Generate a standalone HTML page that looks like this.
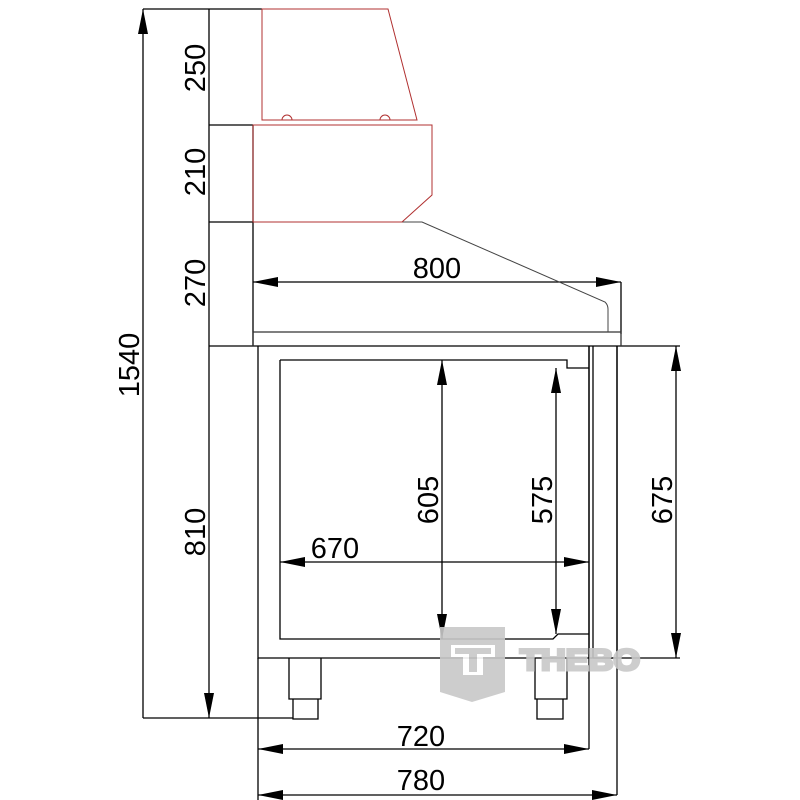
<!DOCTYPE html>
<html><head><style>html,body{margin:0;padding:0;background:#fff}svg{display:block}</style></head><body>
<svg width="800" height="800" viewBox="0 0 800 800" xmlns="http://www.w3.org/2000/svg">
<defs>
<marker id="a" viewBox="0 0 10 4" refX="10" refY="2" markerWidth="26" markerHeight="10" markerUnits="userSpaceOnUse" orient="auto-start-reverse"><path d="M0,0 L10,2 L0,4z" fill="#000"/></marker>
</defs>
<g font-family="Liberation Sans, sans-serif" font-size="29" fill="#000">
<g stroke="#000" stroke-width="1.3" fill="none">
<path d="M143 9H262 M209 125H253 M209 222H253 M209 346H680 M143 718H293 M253 125V346 M258 658V800 M589 346V749 M617 346V795 M593 658H680 M621 282V334"/>
<path d="M143 9V718 M209 9V125 M209 125V222 M209 222V346 M209 346V718" marker-start="url(#a)" marker-end="url(#a)"/>
<path d="M253 282H621" marker-start="url(#a)" marker-end="url(#a)"/>
<path d="M442 360V639" marker-start="url(#a)" marker-end="url(#a)"/>
<path d="M556 368V634" marker-start="url(#a)" marker-end="url(#a)"/>
<path d="M676 346V658" marker-start="url(#a)" marker-end="url(#a)"/>
<path d="M280 562H589" marker-start="url(#a)" marker-end="url(#a)"/>
<path d="M258 749H589" marker-start="url(#a)" marker-end="url(#a)"/>
<path d="M258 795H617" marker-start="url(#a)" marker-end="url(#a)"/>
<path d="M253 332H621V346 M253 332V346" stroke="#333"/>
<path d="M402 222H422L605 302Q608 305 608 309V332" stroke="#444" stroke-width="1"/>
<path d="M258 346V658H617V346 M589 346V658 M593 346V658"/>
<path d="M280 360H567V368H589 M280 360V639H553L558 634H589"/>
<path d="M289 658V699H321V658 M293 699V719H318V699 M535 658V699H567V658 M537 699V719H563V699"/>
</g>
<g stroke="#b03030" stroke-width="1" fill="none">
<path d="M262 9H388L417 120H262Z"/>
<path d="M253 125H432V195L402 222H253Z"/>
<path d="M282 120A5 5 0 0 1 292 120 M380 120A5 5 0 0 1 390 120"/>
</g>
<g fill="#c8c8c8" opacity="0.9">
<path d="M440 627H505V692L472 702L440 692Z"/>
<rect x="451" y="645" width="44" height="12" fill="#fff"/>
<rect x="463" y="645" width="20" height="30" fill="#fff"/>
<rect x="455" y="648" width="36" height="6" fill="#c8c8c8"/>
<rect x="469" y="648" width="8" height="24" fill="#c8c8c8"/>
<text x="520" y="670" font-size="30" font-weight="bold" stroke="#c8c8c8" stroke-width="3" textLength="120" lengthAdjust="spacingAndGlyphs">THEBO</text>
</g>
<text x="437" y="278" text-anchor="middle">800</text>
<text x="335" y="558" text-anchor="middle">670</text>
<text x="421" y="746" text-anchor="middle">720</text>
<text x="421" y="790" text-anchor="middle">780</text>
<text transform="translate(205,68) rotate(-90)" text-anchor="middle">250</text>
<text transform="translate(205,172) rotate(-90)" text-anchor="middle">210</text>
<text transform="translate(205,283) rotate(-90)" text-anchor="middle">270</text>
<text transform="translate(205,532) rotate(-90)" text-anchor="middle">810</text>
<text transform="translate(139,365) rotate(-90)" text-anchor="middle">1540</text>
<text transform="translate(438,500) rotate(-90)" text-anchor="middle">605</text>
<text transform="translate(552,500) rotate(-90)" text-anchor="middle">575</text>
<text transform="translate(672,500) rotate(-90)" text-anchor="middle">675</text>
</g>
</svg>
</body></html>
